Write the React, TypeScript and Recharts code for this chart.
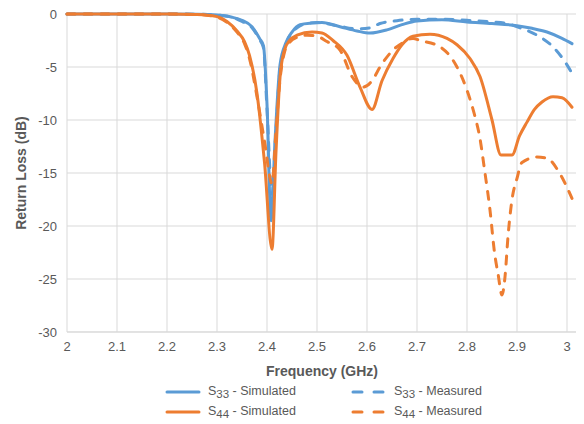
import { LineChart, Line, XAxis, YAxis, CartesianGrid } from 'recharts';

const freqTicks = [2, 2.1, 2.2, 2.3, 2.4, 2.5, 2.6, 2.7, 2.8, 2.9, 3];
const lossTicks = [0, -5, -10, -15, -20, -25, -30];

// S33 simulated
const s33SimFreq = [2.0, 2.1, 2.2, 2.26, 2.3, 2.33, 2.35, 2.37, 2.385, 2.393, 2.4, 2.408, 2.416, 2.426, 2.438, 2.45, 2.466, 2.49, 2.51, 2.546, 2.58, 2.606, 2.64, 2.67, 2.7, 2.75, 2.8, 2.85, 2.9, 2.93, 2.96, 2.99, 3.01];
const s33SimLoss = [0, 0, 0, -0.02, -0.1, -0.3, -0.6, -1.2, -2.3, -3.0, -8.5, -19.5, -12, -4.8, -2.7, -1.7, -1.0, -0.85, -0.8, -1.2, -1.6, -1.8, -1.5, -1.0, -0.65, -0.55, -0.75, -0.9, -1.1, -1.35, -1.7, -2.3, -2.8];

// S33 measured
const s33MeasFreq = [2.0, 2.1, 2.2, 2.26, 2.3, 2.33, 2.35, 2.37, 2.385, 2.393, 2.4, 2.41, 2.418, 2.426, 2.436, 2.446, 2.46, 2.48, 2.5, 2.54, 2.58, 2.606, 2.626, 2.66, 2.7, 2.75, 2.8, 2.85, 2.88, 2.906, 2.94, 2.972, 3.0, 3.01];
const s33MeasLoss = [0, 0, 0, -0.02, -0.1, -0.3, -0.7, -1.3, -2.4, -3.2, -9, -17, -11, -5.2, -3.2, -2.0, -1.3, -0.9, -0.8, -1.1, -1.4, -1.3, -0.9, -0.63, -0.5, -0.5, -0.6, -0.75, -0.9, -1.3, -2.0, -3.1, -4.8, -5.6];

// S44 simulated
const s44SimFreq = [2.0, 2.1, 2.2, 2.26, 2.3, 2.32, 2.34, 2.355, 2.365, 2.38, 2.395, 2.41, 2.418, 2.426, 2.435, 2.445, 2.46, 2.49, 2.51, 2.532, 2.56, 2.586, 2.61, 2.63, 2.652, 2.67, 2.692, 2.726, 2.76, 2.78, 2.806, 2.826, 2.85, 2.868, 2.89, 2.905, 2.92, 2.935, 2.95, 2.972, 2.99, 3.01];
const s44SimLoss = [0, 0, 0, -0.05, -0.25, -0.7, -1.6, -2.6, -3.9, -7.5, -14, -22.2, -13, -6.0, -3.4, -2.5, -2.0, -1.7, -1.8, -2.5, -3.9, -6.9, -9.0, -6.3, -4.2, -2.9, -2.1, -1.9, -2.3, -2.9, -4.2, -5.9, -10.0, -13.3, -13.3, -11.5, -10.2, -9.0, -8.3, -7.8, -7.9, -8.8];

// S44 measured
const s44MeasFreq = [2.0, 2.1, 2.2, 2.26, 2.3, 2.32, 2.34, 2.355, 2.365, 2.38, 2.395, 2.41, 2.418, 2.426, 2.435, 2.445, 2.46, 2.48, 2.5, 2.52, 2.546, 2.57, 2.592, 2.61, 2.626, 2.652, 2.672, 2.692, 2.706, 2.746, 2.78, 2.8, 2.815, 2.825, 2.836, 2.846, 2.855, 2.862, 2.87, 2.876, 2.882, 2.89, 2.9, 2.91, 2.94, 2.96, 2.985, 3.01];
const s44MeasLoss = [0, 0, 0, -0.05, -0.3, -0.8, -1.7, -2.8, -4.2, -7.8, -12, -16, -11, -6.2, -3.6, -2.7, -2.2, -2.0, -2.1, -2.6, -3.4, -5.9, -6.9, -6.3, -5.0, -3.4, -2.7, -2.3, -2.5, -3.1, -5.0, -7.2, -9.5, -11.5, -15, -18.5, -22.5, -24.5, -26.5, -24.8, -21, -17.5, -15.5, -14, -13.5, -13.6, -15, -17.4];

const toPoints = (freq: number[], loss: number[]) => freq.map((f, i) => ({ f, v: loss[i] }));

const BLUE = '#5B9BD5';
const ORANGE = '#ED7D31';
const GREY = '#595959';
const DASH = '8 9';

const series = [
  { name: '33', kind: 'Simulated', color: BLUE, dash: undefined, data: toPoints(s33SimFreq, s33SimLoss) },
  { name: '33', kind: 'Measured', color: BLUE, dash: DASH, data: toPoints(s33MeasFreq, s33MeasLoss) },
  { name: '44', kind: 'Simulated', color: ORANGE, dash: undefined, data: toPoints(s44SimFreq, s44SimLoss) },
  { name: '44', kind: 'Measured', color: ORANGE, dash: DASH, data: toPoints(s44MeasFreq, s44MeasLoss) },
];

const font = "'Liberation Sans', Arial, sans-serif";

function LegendItem({ s, left, top }: { s: typeof series[number]; left: number; top: number }) {
  return (
    <div style={{ position: 'absolute', left, top, display: 'flex', alignItems: 'center', height: 16 }}>
      <svg width={36} height={6} style={{ marginRight: 7 }}>
        <line x1={2} y1={3} x2={34} y2={3} stroke={s.color} strokeWidth={3}
          strokeDasharray={s.dash ? '9 12' : undefined} strokeLinecap='round' />
      </svg>
      <span style={{ fontSize: 12.5, color: GREY, whiteSpace: 'nowrap' }}>
        S<sub style={{ fontSize: 11.5, verticalAlign: -3 }}>{s.name}</sub> - {s.kind}
      </span>
    </div>
  );
}

export default function App() {
  return (
    <div style={{ position: 'relative', width: 576, height: 416, fontFamily: font }}>
      <LineChart width={576} height={416} margin={{ top: 6, right: 7, bottom: 0, left: 0 }}>
        <CartesianGrid stroke='#D9D9D9' strokeWidth={1} />
        <XAxis
          dataKey='f'
          type='number'
          domain={[2, 3.02]}
          ticks={freqTicks}
          interval={0}
          allowDuplicatedCategory={false}
          height={92}
          tickLine={false}
          tickMargin={4}
          axisLine={{ stroke: '#D9D9D9' }}
          tick={{ fill: GREY, fontSize: 13, fontFamily: font }}
        />
        <YAxis
          dataKey='v'
          type='number'
          domain={[-30, 0]}
          ticks={lossTicks}
          interval={0}
          width={59}
          tickLine={false}
          tickMargin={4}
          axisLine={false}
          tick={{ fill: GREY, fontSize: 13, fontFamily: font }}
        />
        {series.map((s, i) => (
          <Line
            key={i}
            data={s.data}
            dataKey='v'
            type='monotone'
            stroke={s.color}
            strokeWidth={3}
            strokeDasharray={s.dash}
            strokeLinecap='round'
            dot={false}
            activeDot={false}
            isAnimationActive={false}
          />
        ))}
      </LineChart>
      <div style={{ position: 'absolute', left: 13, top: 165, transform: 'translate(-50%, -50%) rotate(-90deg)', whiteSpace: 'nowrap', fontWeight: 700, fontSize: 14, color: GREY }}>
        Return Loss (dB)
      </div>
      <div style={{ position: 'absolute', left: 314, top: 363, transform: 'translate(-50%, -50%)', whiteSpace: 'nowrap', fontWeight: 700, fontSize: 14, color: GREY }}>
        Frequency (GHz)
      </div>
      <LegendItem s={series[0]} left={157} top={376} />
      <LegendItem s={series[1]} left={343} top={376} />
      <LegendItem s={series[2]} left={157} top={396} />
      <LegendItem s={series[3]} left={343} top={396} />
    </div>
  );
}
